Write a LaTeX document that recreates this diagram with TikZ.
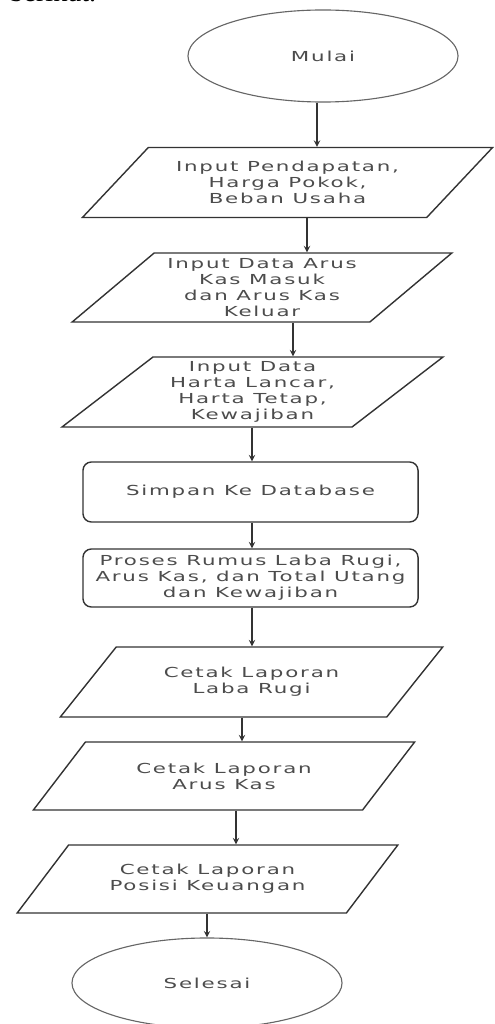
\documentclass[tikz,border=0pt]{standalone}
\usepackage{fontspec}
\newfontfamily\flowfont[FakeStretch=1.55,LetterSpace=13]{DejaVu Sans}
\newfontfamily\bodyfont{Liberation Serif}
\usetikzlibrary{shapes.geometric}
\begin{document}
\begin{tikzpicture}[x=0.025cm,y=-0.025cm,>=stealth,thick]
    \tikzstyle{nodeText}=[font=\flowfont\fontsize{9.8}{11.4}\selectfont, text=black!70, align=center, inner sep=0pt]
    \tikzstyle{nodeTerminal}=[nodeText, ellipse, draw=black!60, line width=0.8pt, minimum width=6.75cm, minimum height=2.3cm]
    \tikzstyle{nodeIO}=[nodeText, trapezium, trapezium left angle=39, trapezium right angle=141, trapezium stretches=true, draw=black!80, line width=1pt, minimum height=1.75cm]
    \tikzstyle{nodeProses}=[nodeText, rectangle, rounded corners=6pt, draw=black!80, line width=1pt, minimum width=8.375cm]
    \tikzstyle{arrow}=[->, draw=black!80, line width=1pt]
    \useasboundingbox (0,0) rectangle (494,1024);
    \clip (0,0) rectangle (494,1024);
    \node[anchor=base west, inner sep=0pt, font=\bodyfont\fontsize{20}{24}\selectfont] (intro) at (9,2) {berikut.};
    \node[nodeTerminal] (mulai) at (323,56) {Mulai};
    \node[nodeIO, minimum width=10.275cm] (in1) at (287.5,182.5) {Input Pendapatan,\\Harga Pokok,\\Beban Usaha};
    \node[nodeIO, minimum width=9.5cm, minimum height=1.725cm] (in2) at (262,287.5) {Input Data Arus\\Kas Masuk\\dan Arus Kas\\Keluar};
    \node[nodeIO, minimum width=9.525cm] (in3) at (252.5,392) {Input Data\\Harta Lancar,\\Harta Tetap,\\Kewajiban};
    \node[nodeProses, minimum height=1.5cm] (simpan) at (250.5,492) {Simpan Ke Database};
    \node[nodeProses, minimum height=1.45cm] (proses) at (250.5,578) {Proses Rumus Laba Rugi,\\Arus Kas, dan Total Utang\\dan Kewajiban};
    \node[nodeIO, minimum width=9.575cm] (out1) at (251.5,682) {Cetak Laporan\\Laba Rugi};
    \node[nodeIO, minimum width=9.55cm, minimum height=1.7cm] (out2) at (224,776) {Cetak Laporan\\Arus Kas};
    \node[nodeIO, minimum width=9.525cm, minimum height=1.7cm] (out3) at (207.5,879) {Cetak Laporan\\Posisi Keuangan};
    \node[nodeTerminal, minimum height=2.25cm] (selesai) at (207,983) {Selesai};
    % alur
    \draw[arrow] (mulai.south -| 317,0) -- (in1.north -| 317,0);
    \draw[arrow] (in1.south -| 307,0) -- (in2.north -| 307,0);
    \draw[arrow] (in2.south -| 293,0) -- (in3.north -| 293,0);
    \draw[arrow] (in3.south -| 252,0) -- (simpan.north -| 252,0);
    \draw[arrow] (simpan.south -| 252,0) -- (proses.north -| 252,0);
    \draw[arrow] (proses.south -| 252,0) -- (out1.north -| 252,0);
    \draw[arrow] (out1.south -| 242,0) -- (out2.north -| 242,0);
    \draw[arrow] (out2.south -| 236,0) -- (out3.north -| 236,0);
    \draw[arrow] (out3.south -| 207,0) -- (selesai.north -| 207,0);
\end{tikzpicture}
\end{document}
